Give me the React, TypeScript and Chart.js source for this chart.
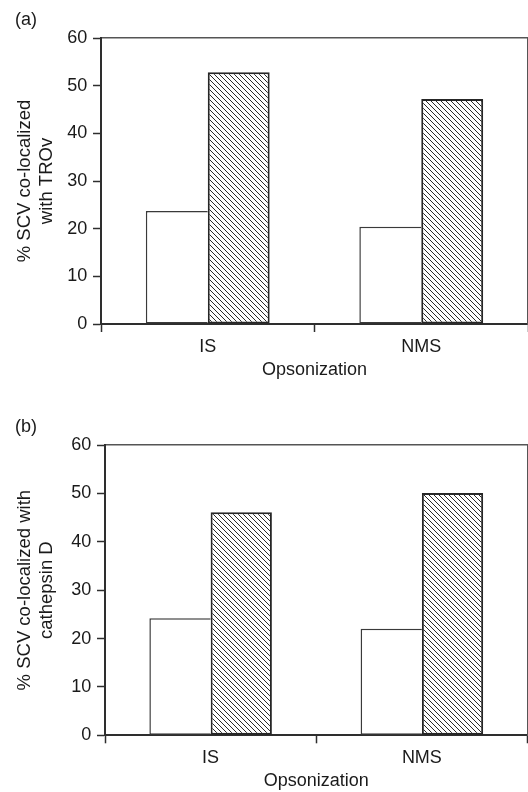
import React, { useEffect, useRef } from 'react';
import { Chart, registerables } from 'chart.js';

Chart.register(...registerables);

// ---------- data ----------
const categories = ['IS', 'NMS'];
const panelALabel = '(a)';
const panelBLabel = '(b)';
const panelAYTitle = ['% SCV co-localized', 'with TROv'];
const panelBYTitle = ['% SCV co-localized with', 'cathepsin D'];
const xAxisTitle = 'Opsonization';
const panelAOpen = [23.7, 20.4];
const panelAHatched = [52.8, 47.2];
const panelBOpen = [24.2, 22.0];
const panelBHatched = [46.1, 50.1];
const yMin = 0;
const yMax = 60;
const yStep = 10;

const FONT = '"Liberation Sans", Arial, Helvetica, sans-serif';
const TEXT = '#1a1a1a';
const AXIS = '#2e2e2e';
const FRAME = '#555555';

function makeHatch(): CanvasPattern | string {
  const s = 5;
  const c = document.createElement('canvas');
  c.width = s;
  c.height = s;
  const ctx = c.getContext('2d');
  if (!ctx) return '#888';
  ctx.fillStyle = '#ffffff';
  ctx.fillRect(0, 0, s, s);
  ctx.strokeStyle = '#2a2a2a';
  ctx.lineWidth = 1;
  ctx.beginPath();
  ctx.moveTo(0, 0);
  ctx.lineTo(s, s);
  ctx.moveTo(-1, s - 1);
  ctx.lineTo(1, s + 1);
  ctx.moveTo(s - 1, -1);
  ctx.lineTo(s + 1, 1);
  ctx.stroke();
  const p = ctx.createPattern(c, 'repeat');
  return p || '#888';
}

type Geom = {
  padLeft: number;
  padRight: number;
  yWidth: number;
  xHeight: number;
  titlePadTop: number;
  titlePadBottom: number;
  xTickPad: number;
  xTitlePadBottom: number;
};

type PanelProps = {
  label: string;
  yTitle: string[];
  open: number[];
  hatched: number[];
  geom: Geom;
};

function Panel({ label, yTitle, open, hatched, geom }: PanelProps) {
  const ref = useRef<HTMLCanvasElement | null>(null);

  useEffect(() => {
    if (!ref.current) return;
    const hatch = makeHatch();
    const chart = new Chart(ref.current, {
      type: 'bar',
      data: {
        labels: categories,
        datasets: [
          {
            data: open,
            backgroundColor: '#ffffff',
            borderColor: '#3a3a3a',
            borderWidth: 1.5,
            borderSkipped: 'right',
            categoryPercentage: 0.58,
            barPercentage: 1,
          },
          {
            data: hatched,
            backgroundColor: hatch as any,
            borderColor: '#262626',
            borderWidth: 2,
            borderSkipped: false,
            categoryPercentage: 0.58,
            barPercentage: 1,
          },
        ],
      },
      options: {
        responsive: false,
        animation: false,
        events: [],
        layout: {
          padding: { left: geom.padLeft, right: geom.padRight, top: 0, bottom: 0 },
        },
        plugins: {
          legend: { display: false },
          tooltip: { enabled: false },
          title: {
            display: true,
            text: label,
            align: 'start',
            color: TEXT,
            font: { family: FONT, size: 18, weight: 'normal', lineHeight: 1.2 },
            padding: { top: geom.titlePadTop, bottom: geom.titlePadBottom },
          },
        },
        scales: {
          x: {
            type: 'category',
            position: 'bottom',
            offset: true,
            grid: {
              display: true,
              offset: true,
              drawOnChartArea: false,
              drawTicks: true,
              tickLength: 8,
              tickColor: AXIS,
              tickWidth: 1.5,
            },
            border: { display: true, color: AXIS, width: 2 },
            ticks: {
              color: TEXT,
              padding: geom.xTickPad,
              maxRotation: 0,
              autoSkip: false,
              font: { family: FONT, size: 18, lineHeight: 1.2 },
            },
            title: {
              display: true,
              text: xAxisTitle,
              color: TEXT,
              font: { family: FONT, size: 18, lineHeight: 1.2 },
              padding: { top: 0, bottom: geom.xTitlePadBottom },
            },
            afterFit: (s: any) => {
              s.height = geom.xHeight;
            },
          },
          xTop: {
            type: 'linear',
            position: 'top',
            grid: { display: false, drawTicks: false },
            ticks: { display: false },
            border: { display: true, color: FRAME, width: 1.5 },
            afterFit: (s: any) => {
              s.height = 0;
            },
          },
          y: {
            type: 'linear',
            position: 'left',
            min: yMin,
            max: yMax,
            ticks: {
              stepSize: yStep,
              color: TEXT,
              padding: 5.7,
              font: { family: FONT, size: 18, lineHeight: 1.2 },
            },
            grid: {
              display: true,
              drawOnChartArea: false,
              drawTicks: true,
              tickLength: 8,
              tickColor: AXIS,
              tickWidth: 1.5,
            },
            border: { display: true, color: AXIS, width: 2 },
            title: {
              display: true,
              text: yTitle,
              color: TEXT,
              font: { family: FONT, size: 18.5, lineHeight: 1.2 },
              padding: { top: -1.1, bottom: 0 },
            },
            afterFit: (s: any) => {
              s.width = geom.yWidth;
            },
          },
          yRight: {
            type: 'linear',
            position: 'right',
            grid: { display: false, drawTicks: false },
            ticks: { display: false },
            border: { display: true, color: FRAME, width: 1.5 },
            afterFit: (s: any) => {
              s.width = 0;
            },
          },
        },
      } as any,
    });
    return () => chart.destroy();
  }, []);

  return <canvas ref={ref} width={528} height={396} style={{ display: 'block', width: 528, height: 396 }} />;
}

const geomA: Geom = {
  padLeft: 15,
  padRight: -2,
  yWidth: 86,
  xHeight: 72,
  titlePadTop: 9.2,
  titlePadBottom: 7.2,
  xTickPad: 4.2,
  xTitlePadBottom: 15.2,
};

const geomB: Geom = {
  padLeft: 15,
  padRight: 0.5,
  yWidth: 90,
  xHeight: 56.7,
  titlePadTop: 20.2,
  titlePadBottom: 7.2,
  xTickPad: 3.9,
  xTitlePadBottom: 0.2,
};

export default function App() {
  return (
    <div style={{ position: 'absolute', left: 0, top: 0, width: 528, height: 792, background: '#ffffff' }}>
      <Panel label={panelALabel} yTitle={panelAYTitle} open={panelAOpen} hatched={panelAHatched} geom={geomA} />
      <Panel label={panelBLabel} yTitle={panelBYTitle} open={panelBOpen} hatched={panelBHatched} geom={geomB} />
    </div>
  );
}
